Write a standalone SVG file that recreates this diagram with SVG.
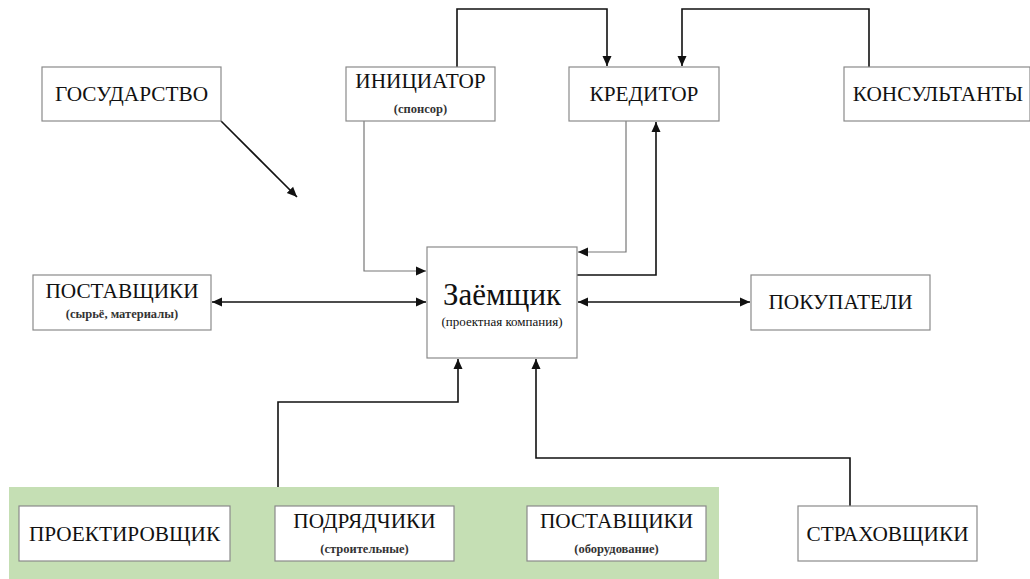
<svg xmlns="http://www.w3.org/2000/svg" width="1030" height="579" viewBox="0 0 1030 579">
<style>
.box{fill:#fff;stroke:#8a8a8a;stroke-width:1.2}
.t{font-family:"Liberation Serif","Times New Roman",serif;fill:#111;text-anchor:middle}
.m{font-size:21.3px}
.s{font-size:12.5px;font-weight:bold;fill:#333}
.c{fill:none;stroke:#111;stroke-width:1.6}
.cg{fill:none;stroke:#777;stroke-width:1.2}
</style>
<defs>
<marker id="a" viewBox="0 0 10 10" refX="10" refY="5" markerWidth="10" markerHeight="10" markerUnits="userSpaceOnUse" orient="auto-start-reverse"><path d="M0,0.5 L10,5 L0,9.5 Z" fill="#111"/></marker>
</defs>
<rect x="9" y="487" width="710" height="92" fill="#c5dfb4"/>
<g id="connectors">
<path class="c" d="M457,67 V9 H607 V66" marker-end="url(#a)"/>
<path class="c" d="M869,67 V9 H682 V66" marker-end="url(#a)"/>
<path class="c" d="M221,121 L297,197" marker-end="url(#a)"/>
<path class="cg" d="M364,121 V271 H426" marker-end="url(#a)"/>
<path class="cg" d="M626,121 V252 H578" marker-end="url(#a)"/>
<path class="c" d="M577,275 H656 V122" marker-end="url(#a)"/>
<path class="c" d="M212,302 H426" marker-start="url(#a)" marker-end="url(#a)"/>
<path class="c" d="M578,302 H750" marker-start="url(#a)" marker-end="url(#a)"/>
<path class="c" d="M278,487 V402 H458 V359" marker-end="url(#a)"/>
<path class="c" d="M850,506 V458 H536 V359" marker-end="url(#a)"/>
</g>
<g id="gosudarstvo"><rect class="box" x="42" y="67" width="179" height="54"/><text class="t m" x="131.5" y="101">ГОСУДАРСТВО</text></g>
<g id="iniciator"><rect class="box" x="346" y="67" width="149" height="54"/><text class="t m" x="420.5" y="88">ИНИЦИАТОР</text><text class="t s" x="420.5" y="113">(спонсор)</text></g>
<g id="kreditor"><rect class="box" x="569" y="67" width="150" height="54"/><text class="t m" x="644" y="101">КРЕДИТОР</text></g>
<g id="konsultanty"><rect class="box" x="844" y="67" width="186" height="54"/><text class="t m" x="938" y="101">КОНСУЛЬТАНТЫ</text></g>
<g id="zaemshik"><rect class="box" x="427" y="247" width="150" height="111"/><text class="t" style="font-size:31px" x="502" y="305">Заёмщик</text><text class="t" style="font-size:13px" x="502" y="326">(проектная компания)</text></g>
<g id="postavshiki1"><rect class="box" x="33" y="275" width="178" height="55"/><text class="t m" x="122" y="298">ПОСТАВЩИКИ</text><text class="t s" x="122" y="318">(сырьё, материалы)</text></g>
<g id="pokupateli"><rect class="box" x="751" y="275" width="179" height="55"/><text class="t m" x="840.5" y="309">ПОКУПАТЕЛИ</text></g>
<g id="proektirovshik"><rect class="box" x="19" y="506" width="211" height="55"/><text class="t m" x="124.5" y="541">ПРОЕКТИРОВЩИК</text></g>
<g id="podryadchiki"><rect class="box" x="275" y="506" width="179" height="55"/><text class="t m" x="364.5" y="528">ПОДРЯДЧИКИ</text><text class="t s" x="364.5" y="553">(строительные)</text></g>
<g id="postavshiki2"><rect class="box" x="527" y="506" width="179" height="55"/><text class="t m" x="616.5" y="528">ПОСТАВЩИКИ</text><text class="t s" x="616.5" y="553">(оборудование)</text></g>
<g id="strahovshiki"><rect class="box" x="798" y="506" width="179" height="55"/><text class="t m" x="887.5" y="541">СТРАХОВЩИКИ</text></g>
</svg>
